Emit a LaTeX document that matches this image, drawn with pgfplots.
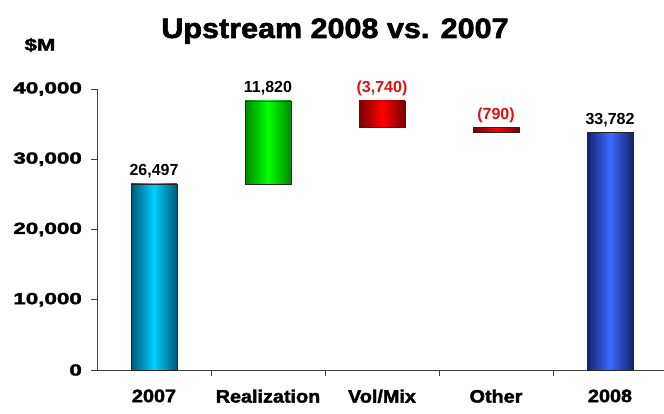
\documentclass[border=0pt]{standalone}
\usepackage{fontspec}
\setmainfont{Liberation Sans}
\newfontfamily\heavy{Liberation Sans Bold}[FakeBold=2]
\usepackage{pgfplots}
\pgfplotsset{compat=1.18}
\definecolor{cyanD}{HTML}{00587A}
\definecolor{cyanL}{HTML}{00CFFF}
\definecolor{greenD}{HTML}{008A00}
\definecolor{greenL}{HTML}{00FF00}
\definecolor{redD}{HTML}{7A0000}
\definecolor{redL}{HTML}{FF0000}
\definecolor{blueD}{HTML}{14236E}
\definecolor{blueL}{HTML}{3A6BFF}
\definecolor{redT}{HTML}{E01010}
\definecolor{axisc}{HTML}{404040}
\begin{document}
\begin{tikzpicture}
\useasboundingbox (-97pt,-43pt) rectangle (567pt,370pt);
\begin{axis}[
  at={(0,0)}, anchor=south west,
  scale only axis, width=566.6pt, height=281pt,
  xmin=-0.5, xmax=4.47, ymin=0, ymax=40000,
  axis x line*=bottom, axis y line*=left,
  axis line style={color=axisc, line width=0.8pt},
  xtick={0,1,2,3,4},
  xticklabels={2007,Realization,Vol/Mix,Other,2008},
  minor xtick={0.5,1.5,2.5,3.5},
  ytick={0,10000,20000,30000,40000},
  tick align=outside,
  major tick length=6pt, minor tick length=6pt,
  major x tick style={draw=none},
  minor x tick style={color=axisc, line width=0.8pt},
  y tick style={color=axisc, line width=0.8pt},
  scaled y ticks=false,
  /pgf/number format/assume math mode=true,
  /pgf/number format/1000 sep={,},
  yticklabel style={font=\heavy\fontsize{16}{16}\selectfont, xscale=1.4, anchor=east, xshift=-3pt},
  xticklabel style={font=\heavy\fontsize{18}{18}\selectfont, xscale=1.1, yshift=-10pt},
  clip=false,
]
\addplot[draw=black!85, line width=0.6pt, left color=cyanD, right color=cyanD, middle color=cyanL]
  coordinates {(-0.2,0) (0.2,0) (0.2,26497) (-0.2,26497)} -- cycle;
\addplot[draw=black!85, line width=0.6pt, left color=greenD, right color=greenD, middle color=greenL]
  coordinates {(0.8,26497) (1.2,26497) (1.2,38317) (0.8,38317)} -- cycle;
\addplot[draw=black!85, line width=0.6pt, left color=redD, right color=redD, middle color=redL]
  coordinates {(1.8,34577) (2.2,34577) (2.2,38317) (1.8,38317)} -- cycle;
\addplot[draw=black!85, line width=0.6pt, left color=redD, right color=redD, middle color=redL]
  coordinates {(2.8,33787) (3.2,33787) (3.2,34577) (2.8,34577)} -- cycle;
\addplot[draw=black!85, line width=0.6pt, left color=blueD, right color=blueD, middle color=blueL]
  coordinates {(3.8,0) (4.2,0) (4.2,33782) (3.8,33782)} -- cycle;
\addplot[draw=none,
  nodes near coords, point meta=explicit symbolic,
  nodes near coords style={font=\bfseries\fontsize{16}{16}\selectfont, anchor=base, yshift=8pt, text=black}]
  table[meta=lab, row sep=\\] {x y lab\\ 0 26497 26,497\\ 1 38317 11,820\\ 4 33782 33,782\\};
\addplot[draw=none,
  nodes near coords, point meta=explicit symbolic,
  nodes near coords style={font=\bfseries\fontsize{16}{16}\selectfont, anchor=base, yshift=8pt, text=redT}]
  table[meta=lab, row sep=\\] {x y lab\\ 2 38317 (3,740)\\ 3 34577 (790)\\};
\end{axis}
\node[font=\heavy\fontsize{28}{28}\selectfont, xscale=1.09, anchor=base] at (238pt,332pt) {Upstream 2008 vs. 2007};
\node[font=\heavy\fontsize{17}{17}\selectfont, xscale=1.3] at (-57pt,325pt) {\$M};
\end{tikzpicture}
\end{document}
